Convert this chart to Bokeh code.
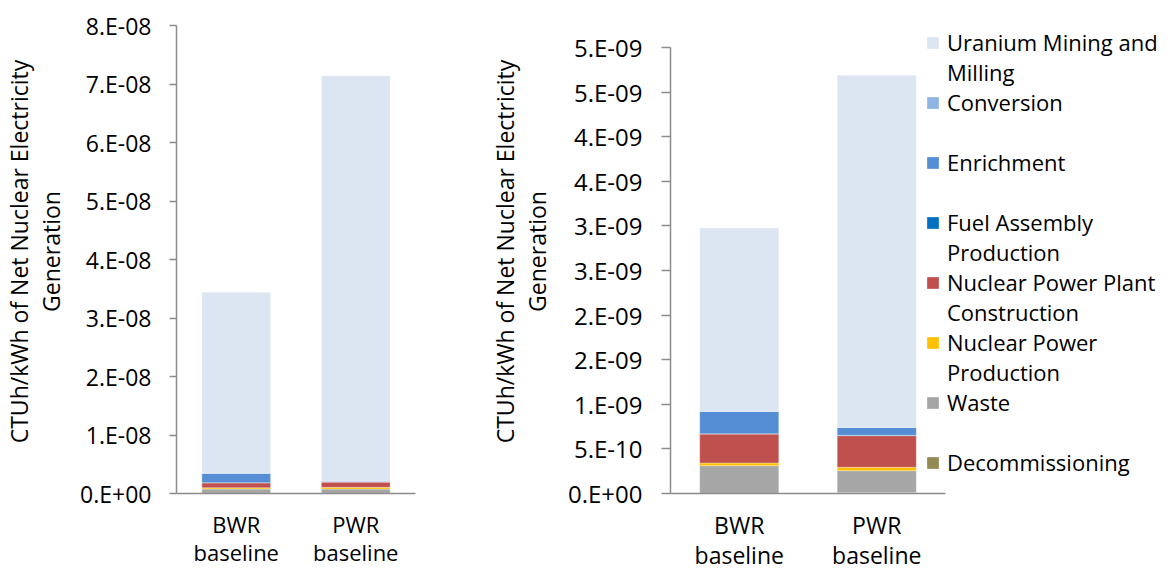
from bokeh.plotting import figure
from bokeh.models import (Range1d, FixedTicker, CustomJSTickFormatter,
                          Legend, LegendItem, ColumnDataSource)
from bokeh.layouts import row
from bokeh.embed import file_html
from bokeh.resources import INLINE

# ---------------- data ----------------
categories = ["BWR\nbaseline", "PWR\nbaseline"]

series_keys = ["decom", "waste", "npp", "construction", "fuel", "enrichment", "conversion", "mining"]
series_names = ["Decommissioning", "Waste", "Nuclear Power\nProduction",
                "Nuclear Power Plant\nConstruction", "Fuel Assembly\nProduction",
                "Enrichment", "Conversion", "Uranium Mining and\nMilling"]
colors = ["#938953", "#A6A6A6", "#FFC000", "#C0504D", "#0070C0", "#558ED5", "#8EB4E3", "#DCE6F2"]

# left panel (CTUh/kWh)
left_decom = [0.03e-9, 0.03e-9]
left_waste = [0.73e-9, 0.73e-9]
left_npp = [0.22e-9, 0.29e-9]
left_construction = [0.85e-9, 0.90e-9]
left_fuel = [0.02e-9, 0.02e-9]
left_enrichment = [1.60e-9, 0.14e-9]
left_conversion = [0.03e-9, 0.01e-9]
left_mining = [30.92e-9, 69.28e-9]

# right panel (CTUh/kWh)
right_decom = [0.003e-9, 0.012e-9]
right_waste = [0.309e-9, 0.244e-9]
right_npp = [0.030e-9, 0.038e-9]
right_construction = [0.325e-9, 0.354e-9]
right_fuel = [0.003e-9, 0.004e-9]
right_enrichment = [0.250e-9, 0.088e-9]
right_conversion = [0.002e-9, 0.002e-9]
right_mining = [2.054e-9, 3.948e-9]

left_tick_step = 1e-8
left_tick_labels = ["0.E+00", "1.E-08", "2.E-08", "3.E-08", "4.E-08",
                    "5.E-08", "6.E-08", "7.E-08", "8.E-08"]
right_tick_step = 5e-10
right_tick_labels = ["0.E+00", "5.E-10", "1.E-09", "2.E-09", "2.E-09", "3.E-09",
                     "3.E-09", "4.E-09", "4.E-09", "5.E-09", "5.E-09"]

y_title = "CTUh/kWh of Net Nuclear Electricity\nGeneration"

FONT = "Open Sans"
AXIS_COLOR = "#8c8c8c"
NB = "\u00a0"


def make_panel(values, tick_step, tick_labels, frame_w, frame_h, x_extra, y_extra, borders,
               tick_font, cat_font, title_font, title_standoff, tick_out, label_standoff):
    n = len(categories)
    cat_x = [i + 0.5 for i in range(n)]
    src = ColumnDataSource(dict(x=cat_x, **dict(zip(series_keys, values))))
    ymax = tick_step * (len(tick_labels) - 1)
    p = figure(x_range=Range1d(0, n * x_extra), y_range=Range1d(0, ymax * y_extra),
               frame_width=frame_w, frame_height=frame_h,
               output_backend="svg", toolbar_location=None,
               min_border_left=borders[0], min_border_right=borders[1],
               min_border_top=borders[2], min_border_bottom=borders[3])
    rs = p.vbar_stack(series_keys, x="x", width=0.575, color=colors, source=src,
                      line_color="white", line_width=0.6, line_alpha=0.5)
    p.outline_line_color = None
    p.xgrid.grid_line_color = None
    p.ygrid.grid_line_color = None
    p.background_fill_color = "white"

    p.yaxis.ticker = FixedTicker(ticks=[tick_step * i for i in range(len(tick_labels))])
    p.yaxis.formatter = CustomJSTickFormatter(
        args=dict(labels=tick_labels, step=tick_step),
        code="const i = Math.round(tick / step); return (i >= 0 && i < labels.length) ? labels[i] : '';")
    p.yaxis.bounds = (0, ymax)
    p.yaxis.major_tick_out = tick_out
    p.yaxis.major_tick_in = 0
    p.yaxis.minor_tick_line_color = None
    p.yaxis.major_label_standoff = label_standoff
    p.yaxis.axis_label = y_title
    p.yaxis.axis_label_standoff = title_standoff
    p.yaxis.axis_label_text_font = FONT
    p.yaxis.axis_label_text_font_style = "normal"
    p.yaxis.axis_label_text_font_size = title_font
    p.yaxis.axis_label_text_line_height = 1.0
    p.yaxis.axis_label_text_color = "black"
    p.yaxis.major_label_text_font_size = tick_font

    p.xaxis.ticker = FixedTicker(ticks=cat_x)
    p.xaxis.formatter = CustomJSTickFormatter(
        args=dict(labels=categories),
        code="const i = Math.round(tick - 0.5); return (i >= 0 && i < labels.length) ? labels[i] : '';")
    p.xaxis.bounds = (0, n)
    p.xaxis.major_tick_line_color = None
    p.xaxis.minor_tick_line_color = None
    p.xaxis.major_label_standoff = 9
    p.xaxis.major_label_text_font_size = cat_font
    p.xaxis.major_label_text_line_height = 0.95

    for ax in (p.xaxis[0], p.yaxis[0]):
        ax.axis_line_color = AXIS_COLOR
        ax.axis_line_width = 1.5
        ax.major_label_text_font = FONT
        ax.major_label_text_color = "black"
    p.yaxis.major_tick_line_color = AXIS_COLOR
    p.yaxis.major_tick_line_width = 1.5
    return p, rs


left_values = [left_decom, left_waste, left_npp, left_construction, left_fuel,
               left_enrichment, left_conversion, left_mining]
right_values = [right_decom, right_waste, right_npp, right_construction, right_fuel,
                right_enrichment, right_conversion, right_mining]

# both frames: page y 10..494 ; left x 176..415 (8e-8 at y=26), right x 670..1170 (5e-9 at y=48)
p1, _ = make_panel(left_values, left_tick_step, left_tick_labels, 239, 484, 1.0, 484 / 468,
                   (168, 55, 9, 69), "23px", "22px", "23px", 10, 7, 18)
p2, rs2 = make_panel(right_values, right_tick_step, right_tick_labels, 500, 484,
                     500 / 275, 484 / 446, (200, 0, 9, 69), "24px", "23px", "23px", 12, 9, 19)

# legend: one row per text line, as in the wrapped legend of the original
ghost = p2.vbar(x=[], top=[], width=0.1, fill_alpha=0, line_alpha=0)
items = []
order = list(reversed(range(len(rs2))))
for k, i in enumerate(order):
    lines = series_names[i].split("\n")
    for j, line in enumerate(lines):
        items.append(LegendItem(label=line, renderers=[rs2[i] if j == 0 else ghost]))
    if len(lines) == 1 and k < len(order) - 1:
        items.append(LegendItem(label=NB, renderers=[ghost]))

legend = Legend(items=items, location=(255, 16), padding=0, spacing=0,
                glyph_width=15, glyph_height=15, label_standoff=7,
                border_line_color=None, background_fill_alpha=0,
                label_text_font=FONT, label_text_font_size="22px",
                label_text_line_height=1.0, label_text_color="black")
p2.add_layout(legend)

layout = row(p1, p2)
open("out.html", "w").write(file_html(layout, INLINE))
